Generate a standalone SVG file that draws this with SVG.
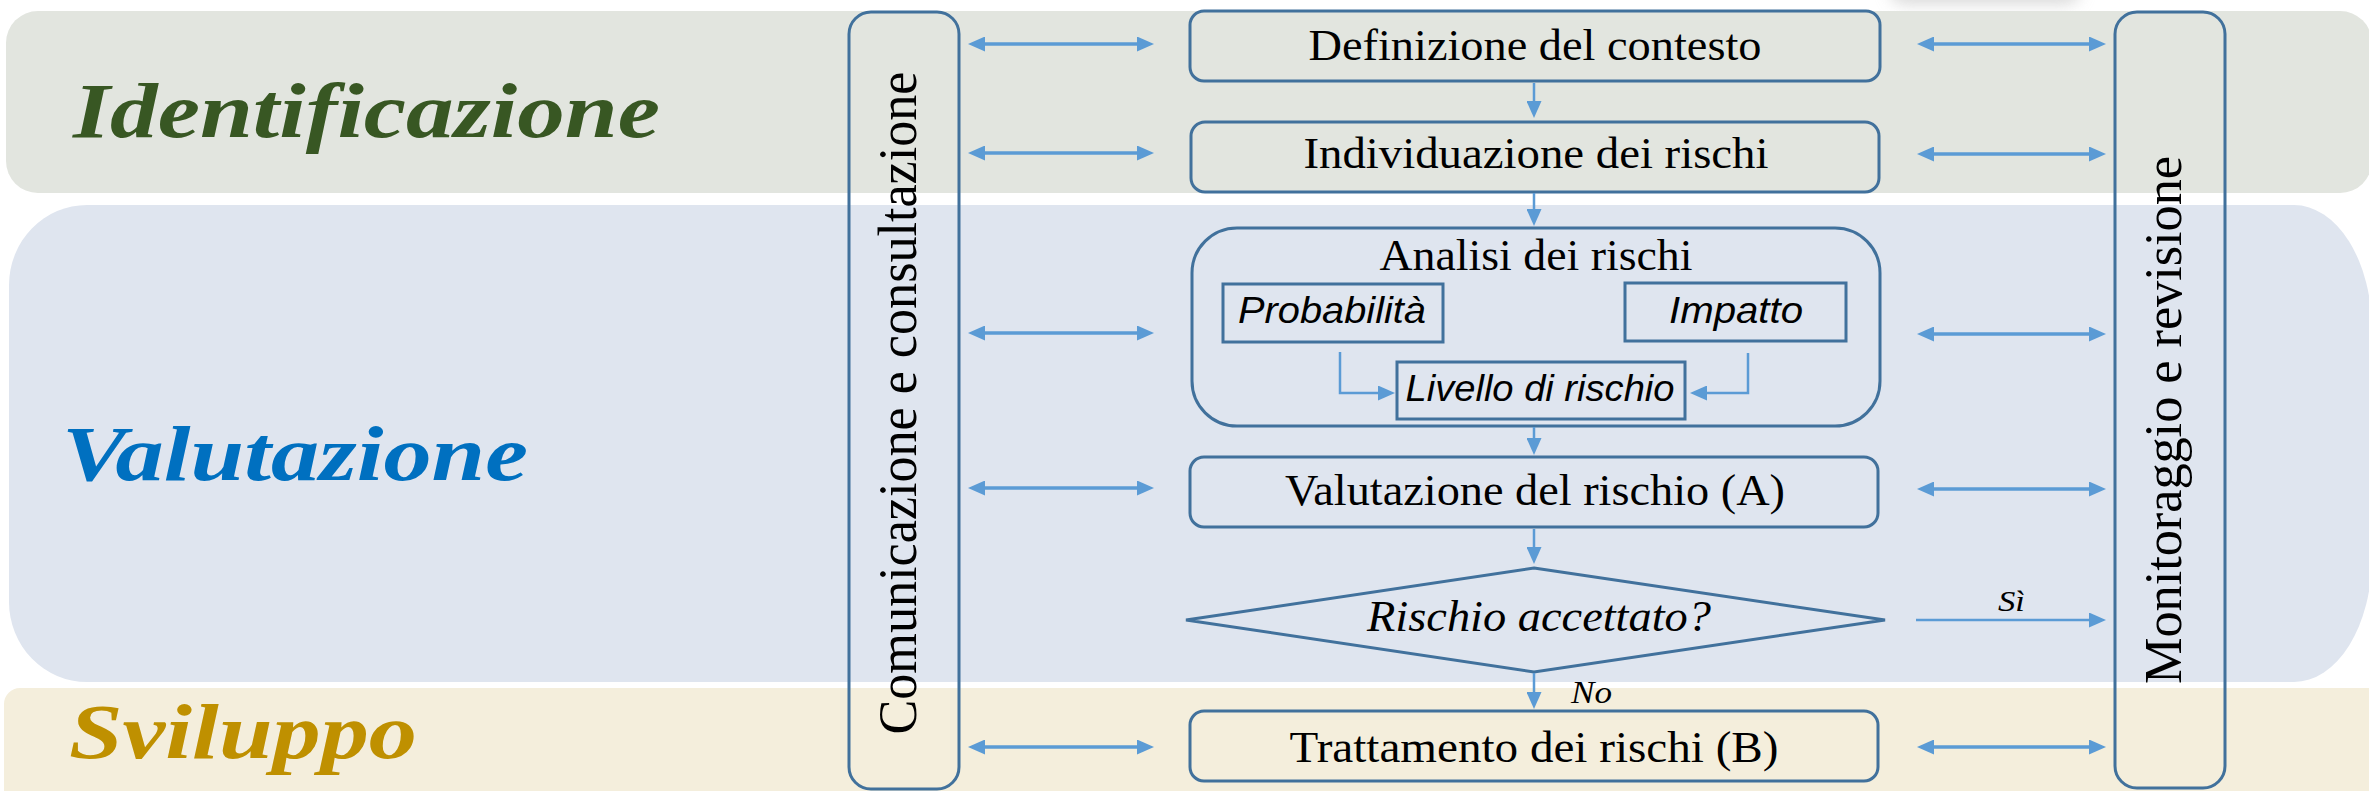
<svg xmlns="http://www.w3.org/2000/svg" width="2369" height="791" viewBox="0 0 2369 791">
<defs>
<marker id="ah" markerUnits="userSpaceOnUse" markerWidth="17" markerHeight="15" refX="7" refY="7.5" orient="auto-start-reverse" viewBox="0 0 17 15">
<path d="M0,0 L17,7.5 L0,15 z" fill="#5B9BD5"/>
</marker>
<filter id="blur" x="-50%" y="-50%" width="200%" height="200%"><feGaussianBlur stdDeviation="8"/></filter>
<style>
.band-title{font-family:"Liberation Serif",serif;font-weight:bold;font-style:italic;font-size:78px}
.box{fill:none;stroke:#41719C;stroke-width:3}
.lbl{font-family:"Liberation Serif",serif;font-size:44px;fill:#000;text-anchor:middle}
.ilbl{font-family:"Liberation Serif",serif;font-style:italic;fill:#000}
.slbl{font-family:"Liberation Sans",sans-serif;font-style:italic;font-size:37px;fill:#000;text-anchor:middle}
.vlbl{font-family:"Liberation Serif",serif;fill:#000;text-anchor:middle}
.conn{fill:none;stroke:#5B9BD5;stroke-width:2.5}
.dbl{fill:none;stroke:#5B9BD5;stroke-width:3.5;marker-start:url(#ah);marker-end:url(#ah)}
.one{marker-end:url(#ah)}
</style>
</defs>
<rect width="2369" height="791" fill="#FFFFFF"/>
<rect x="1890" y="-30" width="190" height="34" rx="14" fill="#BFBFBF" opacity="0.6" filter="url(#blur)"/>
<g id="bands">
<rect id="band-identificazione" x="6" y="11" width="2366" height="182" rx="32" fill="#E2E5DF"/>
<path id="band-valutazione" d="M87,205 H2294 A78,125 0 0 1 2372,330 V557 A78,125 0 0 1 2294,682 H87 A78,80 0 0 1 9,602 V285 A78,80 0 0 1 87,205 Z" fill="#DFE5EF"/>
<rect id="band-sviluppo" x="4" y="688" width="2400" height="140" rx="16" fill="#F4EEDC"/>
</g>
<g id="phase-labels">
<text x="73" y="137" class="band-title" fill="#385723" textLength="587" lengthAdjust="spacingAndGlyphs">Identificazione</text>
<text x="62" y="480" class="band-title" fill="#0070C0" textLength="466" lengthAdjust="spacingAndGlyphs">Valutazione</text>
<text x="69" y="758" class="band-title" fill="#BF9000" textLength="348" lengthAdjust="spacingAndGlyphs">Sviluppo</text>
</g>
<g id="node-comunicazione">
<rect class="box" x="849" y="12" width="110" height="777" rx="22"/>
<text class="vlbl" font-size="54" transform="translate(916,403) rotate(-90)" textLength="663" lengthAdjust="spacingAndGlyphs">Comunicazione e consultazione</text>
</g>
<g id="node-monitoraggio">
<rect class="box" x="2115" y="12" width="110" height="776" rx="22"/>
<text class="vlbl" font-size="52" transform="translate(2181,420) rotate(-90)" textLength="528" lengthAdjust="spacingAndGlyphs">Monitoraggio e revisione</text>
</g>
<g id="node-definizione">
<rect class="box" x="1190" y="11" width="690" height="70" rx="14"/>
<text class="lbl" x="1535" y="60" textLength="453" lengthAdjust="spacingAndGlyphs">Definizione del contesto</text>
</g>
<g id="node-individuazione">
<rect class="box" x="1191" y="122" width="688" height="70" rx="14"/>
<text class="lbl" x="1536" y="168" textLength="465" lengthAdjust="spacingAndGlyphs">Individuazione dei rischi</text>
</g>
<g id="node-analisi">
<rect class="box" x="1192" y="228" width="688" height="198" rx="45"/>
<text class="lbl" x="1536" y="270" textLength="313" lengthAdjust="spacingAndGlyphs">Analisi dei rischi</text>
</g>
<g id="node-probabilita">
<rect class="box" x="1223" y="284" width="220" height="58"/>
<text class="slbl" x="1332" y="323" textLength="188" lengthAdjust="spacingAndGlyphs">Probabilità</text>
</g>
<g id="node-impatto">
<rect class="box" x="1625" y="283" width="221" height="58"/>
<text class="slbl" x="1736" y="323" textLength="134" lengthAdjust="spacingAndGlyphs">Impatto</text>
</g>
<g id="node-livello">
<rect class="box" x="1397" y="362" width="288" height="57"/>
<text class="slbl" x="1540" y="401" textLength="269" lengthAdjust="spacingAndGlyphs">Livello di rischio</text>
</g>
<g id="node-valutazione">
<rect class="box" x="1190" y="457" width="688" height="70" rx="14"/>
<text class="lbl" x="1535" y="505" textLength="500" lengthAdjust="spacingAndGlyphs">Valutazione del rischio (A)</text>
</g>
<g id="node-decisione">
<polygon class="box" points="1534,568 1885,620 1534,672 1186,620"/>
<text class="ilbl" x="1539" y="631" font-size="44" text-anchor="middle" textLength="344" lengthAdjust="spacingAndGlyphs">Rischio accettato?</text>
</g>
<g id="node-trattamento">
<rect class="box" x="1190" y="711" width="688" height="70" rx="14"/>
<text class="lbl" x="1534" y="762" textLength="489" lengthAdjust="spacingAndGlyphs">Trattamento dei rischi (B)</text>
</g>
<g id="connectors">
<line class="conn one" x1="1534" y1="83" x2="1534" y2="108"/>
<line class="conn one" x1="1534" y1="193" x2="1534" y2="216"/>
<line class="conn one" x1="1534" y1="427" x2="1534" y2="445"/>
<line class="conn one" x1="1534" y1="529" x2="1534" y2="554"/>
<line class="conn one" x1="1534" y1="673" x2="1534" y2="699"/>
<path class="conn one" d="M1340,352 V393 H1385"/>
<path class="conn one" d="M1748,353 V393 H1700"/>
<line class="conn one" x1="1916" y1="620" x2="2096" y2="620"/>
<line class="dbl" x1="978" y1="44" x2="1144" y2="44"/>
<line class="dbl" x1="978" y1="153" x2="1144" y2="153"/>
<line class="dbl" x1="978" y1="333" x2="1144" y2="333"/>
<line class="dbl" x1="978" y1="488" x2="1144" y2="488"/>
<line class="dbl" x1="978" y1="747" x2="1144" y2="747"/>
<line class="dbl" x1="1927" y1="44" x2="2096" y2="44"/>
<line class="dbl" x1="1927" y1="154" x2="2096" y2="154"/>
<line class="dbl" x1="1927" y1="334" x2="2096" y2="334"/>
<line class="dbl" x1="1927" y1="489" x2="2096" y2="489"/>
<line class="dbl" x1="1927" y1="747" x2="2096" y2="747"/>
<text class="ilbl" x="1571" y="703" font-size="32" textLength="41" lengthAdjust="spacingAndGlyphs">No</text>
<text class="ilbl" x="1998" y="611" font-size="30" textLength="27" lengthAdjust="spacingAndGlyphs">Sì</text>
</g>
</svg>
